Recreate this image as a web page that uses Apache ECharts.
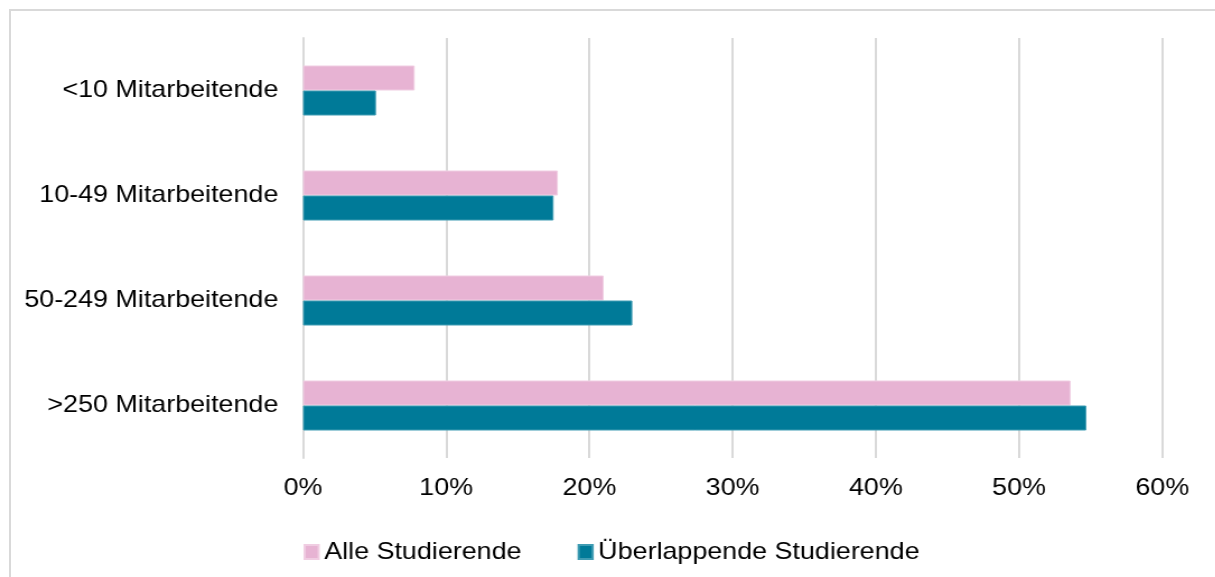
<!DOCTYPE html>
<html>
<head>
<meta charset="utf-8">
<script src="https://cdn.jsdelivr.net/npm/echarts@6/dist/echarts.min.js"></script>
<style>
  html, body { margin: 0; padding: 0; background: #fff; overflow: hidden; }
  #frame { position: absolute; left: 9px; top: 9px; width: 1400px; height: 800px;
           border-top: 2px solid #d9d9d9; border-left: 2px solid #d9d9d9; }
  /* the source picture is a bit stretched sideways, so the chart is too */
  #main { position: absolute; left: 0; top: 0; width: 1084.8px; height: 577px;
          transform: scaleX(1.12); transform-origin: 0 0; }
</style>
</head>
<body>
<div id="frame"></div>
<div id="main"></div>
<script>
var categories = ['<10 Mitarbeitende', '10-49 Mitarbeitende', '50-249 Mitarbeitende', '>250 Mitarbeitende'];
var alleStudierende = [7.8, 17.8, 21.0, 53.6];
var ueberlappende = [5.1, 17.5, 23.0, 54.7];
var tickLabels = ['0%', '10%', '20%', '30%', '40%', '50%', '60%'];

var myChart = echarts.init(document.getElementById('main'));
var font = 'Liberation Sans, Arial, sans-serif';

var option = {
    backgroundColor: 'transparent',
    animation: false,
    grid: {
        left: 270.5,
        right: 47.3,
        top: 38,
        bottom: 119
    },
    legend: {
        left: 266,
        top: 535,
        itemWidth: 12.5,
        itemHeight: 14,
        itemGap: 50,
        icon: 'rect',
        textStyle: { fontFamily: font, fontSize: 24, color: '#000' },
        data: ['Alle Studierende', 'Überlappende Studierende']
    },
    xAxis: {
        type: 'value',
        min: 0,
        max: 60,
        interval: 10,
        axisLine: { show: false },
        axisTick: { show: false },
        splitLine: { lineStyle: { color: '#d9d9d9', width: 2 } },
        axisLabel: {
            margin: 18,
            fontFamily: font,
            fontSize: 24,
            color: '#000',
            formatter: function (v) { return tickLabels[Math.round(v / 10)]; }
        }
    },
    yAxis: {
        type: 'category',
        inverse: true,
        data: categories,
        axisLine: { show: true, lineStyle: { color: '#d9d9d9', width: 2 } },
        axisTick: { show: false },
        axisLabel: { margin: 22, fontFamily: font, fontSize: 24, color: '#000' }
    },
    series: [{
        name: 'Alle Studierende',
        type: 'bar',
        data: alleStudierende,
        barWidth: 25,
        barGap: '0%',
        itemStyle: { color: '#e7b3d3', borderColor: '#f0cde2', borderWidth: 1 }
    }, {
        name: 'Überlappende Studierende',
        type: 'bar',
        data: ueberlappende,
        barWidth: 25,
        barGap: '0%',
        itemStyle: { color: '#007a98', borderColor: '#3f9cb3', borderWidth: 1 }
    }]
};
myChart.setOption(option);
</script>
</body>
</html>
